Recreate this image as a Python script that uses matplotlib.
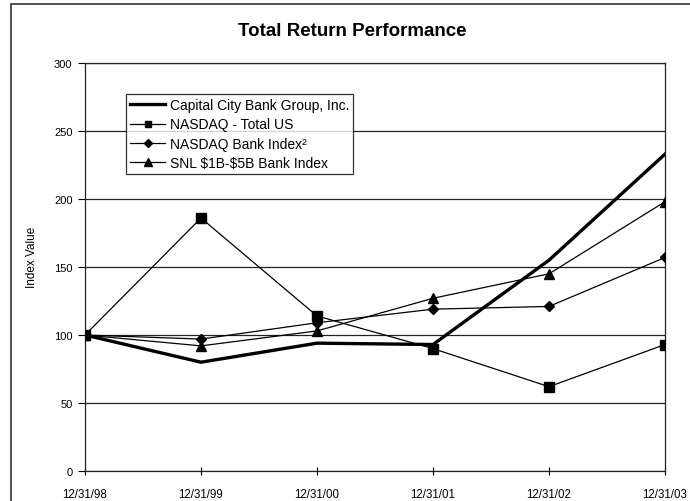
import matplotlib.pyplot as plt
from matplotlib.patches import Rectangle

# Data
dates = ['12/31/98', '12/31/99', '12/31/00', '12/31/01', '12/31/02', '12/31/03']
capital_city = [100, 80, 94, 93, 155, 233]
nasdaq_total = [100, 186, 114, 90, 62, 93]
nasdaq_bank = [100, 97, 109, 119, 121, 157]
snl_bank = [100, 92, 103, 127, 145, 198]

plt.rcParams['font.family'] = ['Liberation Sans', 'DejaVu Sans']

fig = plt.figure(figsize=(6.9, 5.02), dpi=100)
ax = fig.add_axes([85 / 690, 1 - 472 / 502, 580 / 690, 408 / 502])

x = list(range(len(dates)))
ax.plot(x, capital_city, color='black', lw=2.4, label='Capital City Bank Group, Inc.', zorder=5)
ax.plot(x, nasdaq_total, color='black', lw=0.9, marker='s', ms=6.5, label='NASDAQ - Total US', zorder=4)
ax.plot(x, nasdaq_bank, color='black', lw=0.9, marker='D', ms=5, label='NASDAQ Bank Index²', zorder=4)
ax.plot(x, snl_bank, color='black', lw=0.9, marker='^', ms=7, label='SNL \\$1B-\\$5B Bank Index', zorder=4)

ax.set_xlim(0, 5)
ax.set_ylim(0, 300)
ax.set_yticks(range(0, 301, 50))
ax.set_xticks(x)
ax.set_xticklabels(dates)
ax.yaxis.grid(True, color='#222222', lw=0.9)
ax.set_axisbelow(True)
for s in ax.spines.values():
    s.set_linewidth(0.9)
    s.set_color('#222222')
ax.spines['right'].set_clip_on(False)
ax.tick_params(axis='y', direction='out', length=5, labelsize=8, pad=4)
ax.tick_params(axis='x', direction='inout', length=6, labelsize=8.3, pad=9)
ax.set_ylabel('Index Value', fontsize=8.5)
ax.yaxis.set_label_coords(-0.081, 0.525)

leg = ax.legend(loc='upper left', bbox_to_anchor=(0.0707, 0.924), fontsize=10,
                frameon=True, fancybox=False, borderpad=0.3, labelspacing=0.38,
                handlelength=2.5, handletextpad=0.35, borderaxespad=0, markerscale=0.75)
leg.get_frame().set_edgecolor('black')
leg.get_frame().set_linewidth(0.9)

fig.text(352 / 690, 1 - 32 / 502, 'Total Return Performance', ha='center', va='center',
         fontsize=13.5, fontweight='bold')

# outer border of the chart area
fig.patches.append(Rectangle((11 / 690, -0.05), 1.1, 1 - 5 / 502 + 0.05,
                             transform=fig.transFigure, fill=False,
                             edgecolor='#333333', lw=1.2))

fig.savefig('out.png', dpi=100)
